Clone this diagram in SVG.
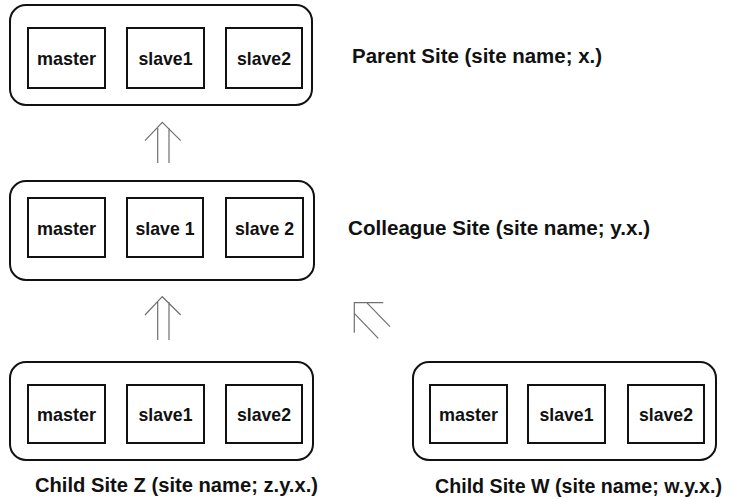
<svg xmlns="http://www.w3.org/2000/svg" width="737" height="499" viewBox="0 0 737 499">
<style>
.site{fill:#fff;stroke:#111;stroke-width:2}
.srv{fill:#fff;stroke:#111;stroke-width:2}
.t{font-family:"Liberation Sans",Arial,sans-serif;font-weight:bold;font-size:19px;fill:#111;text-anchor:middle}
.lbl{font-family:"Liberation Sans",Arial,sans-serif;font-weight:bold;font-size:20px;fill:#111}
.ar{fill:none;stroke:#707070;stroke-width:1.2}
</style>
<rect width="737" height="499" fill="#fff"/>
<g id="parent">
<rect class="site" x="10" y="5" width="302" height="100" rx="16"/>
<rect class="srv" x="28" y="28" width="77" height="60"/>
<rect class="srv" x="127" y="28" width="77" height="60"/>
<rect class="srv" x="226" y="28" width="76" height="60"/>
<text class="t" x="66.5" y="65" textLength="59" lengthAdjust="spacingAndGlyphs">master</text>
<text class="t" x="165.5" y="65" textLength="54" lengthAdjust="spacingAndGlyphs">slave1</text>
<text class="t" x="264" y="65" textLength="54" lengthAdjust="spacingAndGlyphs">slave2</text>
<text class="lbl" x="352" y="63" textLength="250" lengthAdjust="spacingAndGlyphs">Parent Site (site name; x.)</text>
</g>
<g id="colleague">
<rect class="site" x="10" y="181" width="304" height="99" rx="16"/>
<rect class="srv" x="28" y="198" width="77" height="59"/>
<rect class="srv" x="127" y="198" width="76" height="59"/>
<rect class="srv" x="226" y="198" width="77" height="59"/>
<text class="t" x="66.5" y="234.5" textLength="59" lengthAdjust="spacingAndGlyphs">master</text>
<text class="t" x="165" y="234.5" textLength="59" lengthAdjust="spacingAndGlyphs">slave 1</text>
<text class="t" x="264.5" y="234.5" textLength="59" lengthAdjust="spacingAndGlyphs">slave 2</text>
<text class="lbl" x="348" y="235" textLength="302" lengthAdjust="spacingAndGlyphs">Colleague Site (site name; y.x.)</text>
</g>
<g id="childZ">
<rect class="site" x="10" y="362" width="303" height="98" rx="16"/>
<rect class="srv" x="28" y="385" width="77" height="58"/>
<rect class="srv" x="127" y="385" width="77" height="58"/>
<rect class="srv" x="226" y="385" width="76" height="58"/>
<text class="t" x="66.5" y="421" textLength="59" lengthAdjust="spacingAndGlyphs">master</text>
<text class="t" x="165.5" y="421" textLength="54" lengthAdjust="spacingAndGlyphs">slave1</text>
<text class="t" x="264" y="421" textLength="54" lengthAdjust="spacingAndGlyphs">slave2</text>
<text class="lbl" x="35" y="492" textLength="283" lengthAdjust="spacingAndGlyphs">Child Site Z (site name; z.y.x.)</text>
</g>
<g id="childW">
<rect class="site" x="413" y="362" width="303" height="98" rx="16"/>
<rect class="srv" x="430" y="385" width="77" height="58"/>
<rect class="srv" x="528" y="385" width="77" height="58"/>
<rect class="srv" x="628" y="385" width="76" height="58"/>
<text class="t" x="468.5" y="421" textLength="59" lengthAdjust="spacingAndGlyphs">master</text>
<text class="t" x="566.5" y="421" textLength="54" lengthAdjust="spacingAndGlyphs">slave1</text>
<text class="t" x="666" y="421" textLength="54" lengthAdjust="spacingAndGlyphs">slave2</text>
<text class="lbl" x="435" y="493" textLength="287" lengthAdjust="spacingAndGlyphs">Child Site W (site name; w.y.x.)</text>
</g>
<g id="connectors">
<path class="ar" d="M145,140.7 L162.3,122.3 L180.7,140.7 M157.7,128 V163 M169,128 V163"/>
<path class="ar" d="M145,315 L162.3,296.7 L180.7,315 M157.7,302 V340 M169,302 V340"/>
<path class="ar" d="M383.3,302.7 H354.3 V332.7 M366.7,302.7 L390,326.7 M354.3,313.3 L378.3,338.3"/>
</g>
</svg>
